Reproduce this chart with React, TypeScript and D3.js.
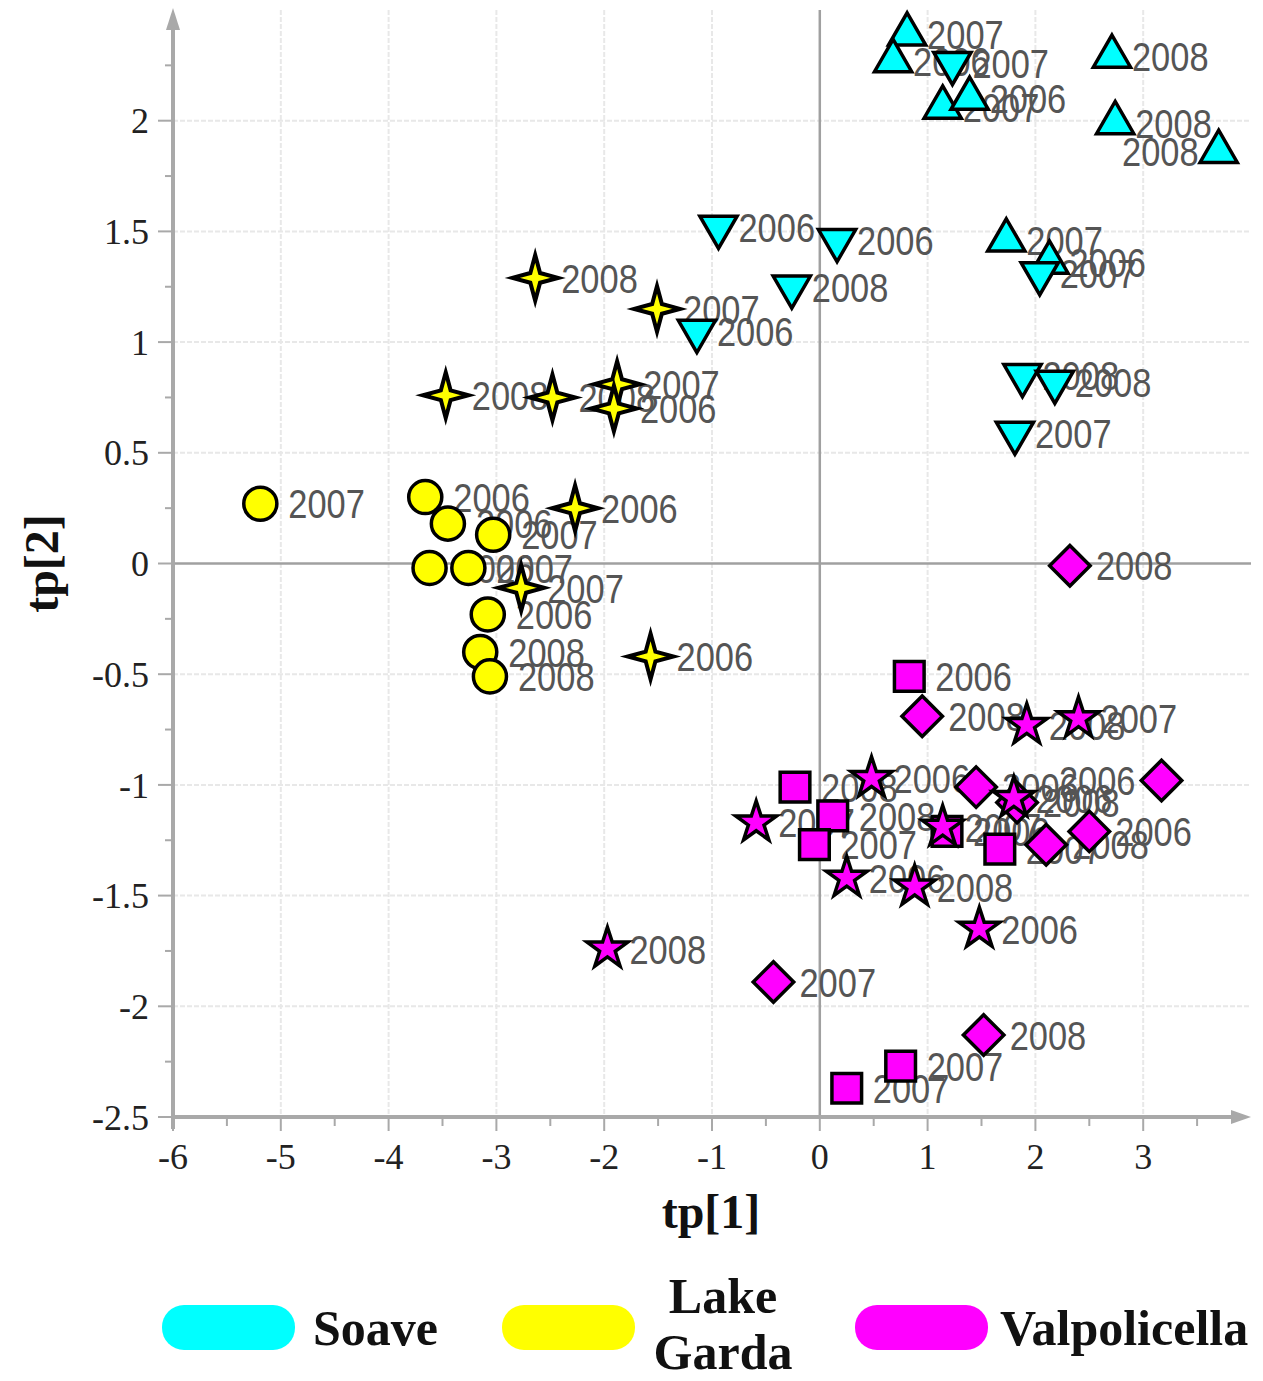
import * as d3 from "d3";

// Soave - triangles up / down
const soaveUp = [
  { x: 0.81, y: 2.39, year: "2007" },
  { x: 0.68, y: 2.27, year: "2006" },
  { x: 1.14, y: 2.06, year: "2007" },
  { x: 1.39, y: 2.1, year: "2006" },
  { x: 2.71, y: 2.29, year: "2008" },
  { x: 2.74, y: 1.99, year: "2008" },
  { x: 3.7, y: 1.86, year: "2008" },
  { x: 1.73, y: 1.46, year: "2007" },
  { x: 2.13, y: 1.36, year: "2006" },
];
const soaveDown = [
  { x: 1.23, y: 2.26, year: "2007" },
  { x: -0.94, y: 1.52, year: "2006" },
  { x: 0.16, y: 1.46, year: "2006" },
  { x: -0.26, y: 1.25, year: "2008" },
  { x: -1.14, y: 1.05, year: "2006" },
  { x: 2.04, y: 1.31, year: "2007" },
  { x: 1.88, y: 0.85, year: "2008" },
  { x: 2.18, y: 0.82, year: "2008" },
  { x: 1.81, y: 0.59, year: "2007" },
];

// Lake Garda - circles / four point stars
const gardaCircle = [
  { x: -5.19, y: 0.27, year: "2007" },
  { x: -3.66, y: 0.3, year: "2006" },
  { x: -3.45, y: 0.18, year: "2006" },
  { x: -3.03, y: 0.13, year: "2007" },
  { x: -3.62, y: -0.02, year: "2006" },
  { x: -3.26, y: -0.02, year: "2007" },
  { x: -3.08, y: -0.23, year: "2006" },
  { x: -3.15, y: -0.4, year: "2008" },
  { x: -3.06, y: -0.51, year: "2008" },
];
const gardaSparkle = [
  { x: -2.64, y: 1.29, year: "2008" },
  { x: -1.51, y: 1.15, year: "2007" },
  { x: -3.47, y: 0.76, year: "2008" },
  { x: -2.48, y: 0.75, year: "2008" },
  { x: -1.88, y: 0.81, year: "2007" },
  { x: -1.91, y: 0.7, year: "2006" },
  { x: -2.27, y: 0.25, year: "2006" },
  { x: -2.77, y: -0.11, year: "2007" },
  { x: -1.57, y: -0.42, year: "2006" },
];

// Valpolicella - squares / diamonds / stars
const valpSquare = [
  { x: 0.83, y: -0.51, year: "2006" },
  { x: -0.23, y: -1.01, year: "2008" },
  { x: 0.12, y: -1.14, year: "2008" },
  { x: -0.05, y: -1.27, year: "2007" },
  { x: 1.18, y: -1.21, year: "2006" },
  { x: 1.67, y: -1.29, year: "2007" },
  { x: 0.75, y: -2.27, year: "2007" },
  { x: 0.25, y: -2.37, year: "2007" },
];
const valpDiamond = [
  { x: 2.32, y: -0.01, year: "2008" },
  { x: 0.95, y: -0.69, year: "2008" },
  { x: 1.45, y: -1.01, year: "2006" },
  { x: 1.83, y: -1.08, year: "2008" },
  { x: 2.1, y: -1.27, year: "2008" },
  { x: 2.5, y: -1.21, year: "2006" },
  { x: 3.17, y: -0.98, year: "2006" },
  { x: -0.43, y: -1.89, year: "2007" },
  { x: 1.52, y: -2.13, year: "2008" },
];
const valpStar = [
  { x: 1.92, y: -0.73, year: "2008" },
  { x: 2.4, y: -0.7, year: "2007" },
  { x: 0.48, y: -0.97, year: "2006" },
  { x: -0.59, y: -1.17, year: "2007" },
  { x: 0.25, y: -1.42, year: "2006" },
  { x: 0.88, y: -1.46, year: "2008" },
  { x: 1.14, y: -1.19, year: "2007" },
  { x: 1.8, y: -1.06, year: "2006" },
  { x: -1.97, y: -1.74, year: "2008" },
  { x: 1.48, y: -1.65, year: "2006" },
];

const xTicks = [-6, -5, -4, -3, -2, -1, 0, 1, 2, 3];
const yTicks = [-2.5, -2, -1.5, -1, -0.5, 0, 0.5, 1, 1.5, 2];
const legendItems = [
  { name: ["Soave"], color: "#00ffff" },
  { name: ["Lake", "Garda"], color: "#ffff00" },
  { name: ["Valpolicella"], color: "#ff00ff" },
];

// four point star symbol
const symbolSparkle = {
  draw(context: any, size: number) {
    const r = Math.sqrt(size) / 2;
    const ri = r * 0.3;
    for (let i = 0; i < 8; i++) {
      const a = (i * Math.PI) / 4 - Math.PI / 2;
      const rr = i % 2 === 0 ? r : ri;
      const px = rr * Math.cos(a);
      const py = rr * Math.sin(a);
      if (i === 0) context.moveTo(px, py);
      else context.lineTo(px, py);
    }
    context.closePath();
  },
};

const series = [
  { data: soaveUp, color: "#00ffff", type: d3.symbolTriangle, size: 600, rot: 0, off: 20 },
  { data: soaveDown, color: "#00ffff", type: d3.symbolTriangle, size: 600, rot: 180, off: 20 },
  { data: gardaCircle, color: "#ffff00", type: d3.symbolCircle, size: 860, rot: 0, off: 28 },
  { data: gardaSparkle, color: "#ffff00", type: symbolSparkle, size: 2100, rot: 0, off: 26 },
  { data: valpSquare, color: "#ff00ff", type: d3.symbolSquare, size: 880, rot: 0, off: 26 },
  { data: valpDiamond, color: "#ff00ff", type: d3.symbolSquare, size: 820, rot: 45, off: 26 },
  { data: valpStar, color: "#ff00ff", type: d3.symbolStar, size: 520, rot: 0, off: 22 },
];

export default function App() {
  const width = 1263;
  const height = 1381;
  const margin = { left: 173, right: 12, top: 10, bottom: 264 };
  const plotRight = width - margin.right;
  const plotBottom = height - margin.bottom;

  const xScale = d3.scaleLinear().domain([-6, 4]).range([margin.left, plotRight]);
  const yScale = d3.scaleLinear().domain([-2.5, 2.5]).range([plotBottom, margin.top]);

  const xMinor = d3.range(-6, 4, 0.5);
  const yMinor = d3.range(-2.5, 2.5, 0.25);
  const axisColor = "#a9a9a9";
  const labelWidth = 78;
  const serif = "'Liberation Serif', 'Times New Roman', serif";

  return (
    <svg width={width} height={height} style={{ position: "absolute", left: 0, top: 0, background: "#fff" }}>
      {/* grid */}
      <g>
        {xTicks.filter((t) => t !== -6 && t !== 0).map((t) => (
          <line key={"gx" + t} x1={xScale(t)} x2={xScale(t)} y1={margin.top} y2={plotBottom}
            stroke="#e8e8e8" strokeWidth={2} strokeDasharray="5,2" />
        ))}
        {yTicks.filter((t) => t !== -2.5 && t !== 0).map((t) => (
          <line key={"gy" + t} x1={margin.left} x2={plotRight} y1={yScale(t)} y2={yScale(t)}
            stroke="#e8e8e8" strokeWidth={2} strokeDasharray="5,2" />
        ))}
        <line x1={xScale(0)} x2={xScale(0)} y1={margin.top} y2={plotBottom} stroke="#a0a0a0" strokeWidth={2.5} />
        <line x1={margin.left} x2={plotRight} y1={yScale(0)} y2={yScale(0)} stroke="#a0a0a0" strokeWidth={2.5} />
      </g>

      {/* axes */}
      <g>
        <line x1={margin.left} x2={plotRight - 8} y1={plotBottom} y2={plotBottom} stroke={axisColor} strokeWidth={4} />
        <path d={`M${plotRight},${plotBottom} l-20,-7 l0,14 Z`} fill={axisColor} />
        <line x1={margin.left} x2={margin.left} y1={plotBottom + 12} y2={margin.top + 8} stroke={axisColor} strokeWidth={4} />
        <path d={`M${margin.left},${margin.top - 2} l-7,22 l14,0 Z`} fill={axisColor} />
        {xMinor.map((t) => (
          <line key={"xt" + t} x1={xScale(t)} x2={xScale(t)} y1={plotBottom}
            y2={plotBottom + (Number.isInteger(t) ? 14 : 9)} stroke={axisColor} strokeWidth={2} />
        ))}
        {yMinor.map((t) => (
          <line key={"yt" + t} x1={margin.left} x2={margin.left - (Number.isInteger(t * 2) ? 15 : 8)}
            y1={yScale(t)} y2={yScale(t)} stroke={axisColor} strokeWidth={2} />
        ))}
        {xTicks.map((t) => (
          <text key={"xl" + t} x={xScale(t)} y={plotBottom + 52} textAnchor="middle"
            fontFamily={serif} fontSize={36} fill="#222">
            {t}
          </text>
        ))}
        {yTicks.map((t) => (
          <text key={"yl" + t} x={margin.left - 24} y={yScale(t)} dy="0.35em" textAnchor="end"
            fontFamily={serif} fontSize={36} fill="#222">
            {t}
          </text>
        ))}
        <text x={711} y={1228} textAnchor="middle" fontFamily={serif}
          fontSize={48} fontWeight="bold" fill="#111">tp[1]</text>
        <text transform={`translate(58, ${yScale(0)}) rotate(-90)`} textAnchor="middle"
          fontFamily={serif} fontSize={48} fontWeight="bold" fill="#111">tp[2]</text>
      </g>

      {/* labels */}
      <g fontFamily="'Liberation Sans', Arial, sans-serif" fontSize={41} fill="#555">
        {series.map((s, si) =>
          s.data.map((d, i) => {
            const px = xScale(d.x);
            const flip = px + s.off + labelWidth > plotRight;
            const tx = flip ? px - s.off : px + s.off;
            return (
              <text key={`l${si}-${i}`} transform={`translate(${tx},${yScale(d.y)}) scale(0.84,1)`} dy="0.36em"
                textAnchor={flip ? "end" : "start"}>
                {d.year}
              </text>
            );
          })
        )}
      </g>

      {/* markers */}
      <g>
        {series.map((s, si) => {
          const path = d3.symbol().type(s.type as any).size(s.size)() as string;
          return s.data.map((d, i) => (
            <path key={`m${si}-${i}`} d={path}
              transform={`translate(${xScale(d.x)},${yScale(d.y)}) rotate(${s.rot})`}
              fill={s.color} stroke="#000" strokeWidth={s.type === symbolSparkle ? 4 : 3.5} strokeLinejoin="miter" />
          ));
        })}
      </g>

      {/* legend */}
      <g fontFamily={serif} fontWeight="bold" fontSize={50} fill="#111">
        {legendItems.map((item, i) => {
          const rx = [162, 502, 855][i];
          const tx = [313, 723, 1000][i];
          return (
            <g key={"lg" + i}>
              <rect x={rx} y={1305} width={133} height={45} rx={22} ry={22} fill={item.color} />
              {item.name.length === 1 ? (
                <text x={tx} y={1345}>{item.name[0]}</text>
              ) : (
                item.name.map((n, j) => (
                  <text key={n} x={tx} y={1313 + j * 56} textAnchor="middle">{n}</text>
                ))
              )}
            </g>
          );
        })}
      </g>
    </svg>
  );
}
